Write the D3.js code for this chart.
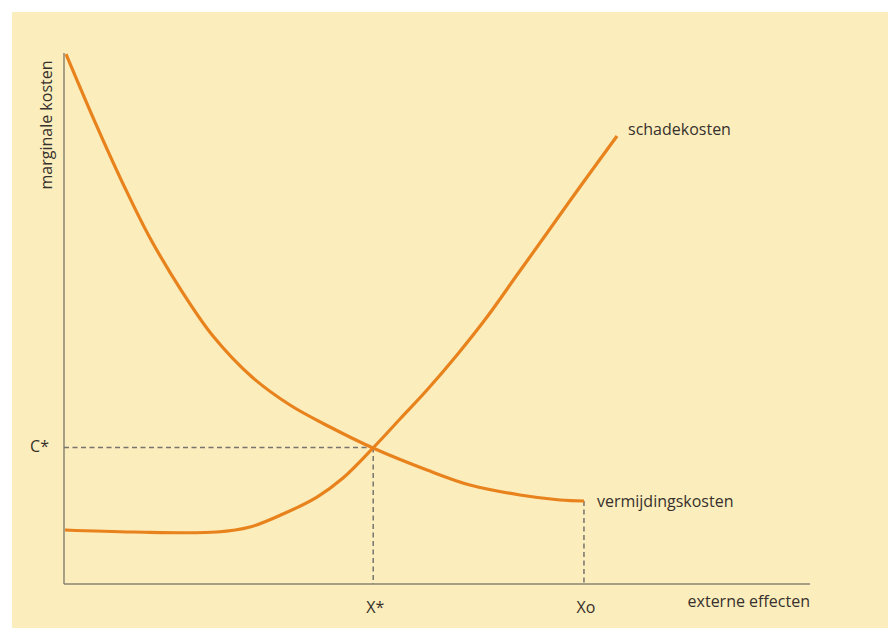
<!DOCTYPE html>
<html><head><meta charset="utf-8">
<script src="https://cdn.jsdelivr.net/npm/d3@7"></script>
<style>html,body{margin:0;padding:0;background:#fff;}svg{display:block;}</style>
</head><body>
<svg id="chart" width="888" height="628"></svg>
<script>
// Data (abstract units: x 0-100 external effects, y 0-100 marginal cost)
const vermijdingX = [0.27, 4.16, 8.18, 11.53, 15.95, 19.97, 25.2, 30.29, 35.66, 41.42, 48.66, 54.42, 61.13, 66.49, 69.71];
const vermijdingY = [99.81, 87.0, 74.58, 65.16, 54.8, 46.7, 38.98, 33.71, 29.57, 25.61, 21.47, 18.64, 16.76, 15.82, 15.63];
const schadeX = [0.13, 9.25, 20.51, 24.93, 29.36, 33.91, 37.4, 41.55, 45.04, 48.66, 52.68, 56.7, 60.72, 64.75, 69.44, 74.13];
const schadeY = [10.17, 9.79, 9.79, 10.73, 13.18, 16.38, 19.96, 25.8, 31.07, 36.53, 43.13, 50.28, 58.19, 66.1, 75.33, 84.37];
const cStar = 25.7, xStar = 41.45, xO = 69.7;
const seriesNames = ["vermijdingskosten", "schadekosten"];
const axisLabels = ["marginale kosten", "externe effecten"];
const tickLabels = ["C*", "X*", "Xo"];

const svg = d3.select("#chart");
svg.append("rect").attr("x", 12).attr("y", 12).attr("width", 876).attr("height", 616).attr("fill", "#fcedbc");

const x = d3.scaleLinear().domain([0, 100]).range([64, 810]);
const y = d3.scaleLinear().domain([0, 100]).range([584, 53]);
const font = "'Open Sans', sans-serif";
const textCol = "#36312c";
const axisCol = "#8b8474";
const orange = "#e8821c";
const dashCol = "#77746d";

// axes
svg.append("line").attr("x1", x(0)).attr("x2", x(0)).attr("y1", y(100)).attr("y2", y(0))
  .attr("stroke", axisCol).attr("stroke-width", 1.5);
svg.append("line").attr("x1", x(0)).attr("x2", x(100)).attr("y1", y(0)).attr("y2", y(0))
  .attr("stroke", axisCol).attr("stroke-width", 1.5);

// dashed guides
const dash = "5,3.5";
svg.append("line").attr("x1", x(0)).attr("x2", x(xStar)).attr("y1", y(cStar)).attr("y2", y(cStar))
  .attr("stroke", dashCol).attr("stroke-width", 1.5).attr("stroke-dasharray", dash);
svg.append("line").attr("x1", x(xStar)).attr("x2", x(xStar)).attr("y1", y(cStar)).attr("y2", y(0))
  .attr("stroke", dashCol).attr("stroke-width", 1.5).attr("stroke-dasharray", dash);
svg.append("line").attr("x1", x(xO)).attr("x2", x(xO)).attr("y1", y(vermijdingY[vermijdingY.length-1])).attr("y2", y(0))
  .attr("stroke", dashCol).attr("stroke-width", 1.5).attr("stroke-dasharray", dash);

// curves
const line = d3.line().x(d => x(d[0])).y(d => y(d[1])).curve(d3.curveCatmullRom.alpha(0.5));
const vData = vermijdingX.map((v, i) => [v, vermijdingY[i]]);
const sData = schadeX.map((v, i) => [v, schadeY[i]]);
svg.append("path").attr("d", line(vData)).attr("fill", "none").attr("stroke", orange).attr("stroke-width", 3.2).attr("stroke-linecap", "butt");
svg.append("path").attr("d", line(sData)).attr("fill", "none").attr("stroke", orange).attr("stroke-width", 3.2).attr("stroke-linecap", "butt");

// texts
function txt(s, px, py, anchor, rot) {
  const t = svg.append("text").attr("x", px).attr("y", py).attr("text-anchor", anchor)
    .attr("font-family", font).attr("font-size", 16).attr("fill", textCol).text(s);
  if (rot) t.attr("transform", `rotate(-90,${px},${py})`);
  return t;
}
txt(seriesNames[1], x(schadeX[schadeX.length-1]) + 11, y(schadeY[schadeY.length-1]) - 1, "start");
txt(seriesNames[0], x(xO) + 13, y(vermijdingY[vermijdingY.length-1]) + 6, "start");
txt(axisLabels[0], 52, 125, "middle", true);
txt(axisLabels[1], x(100), 607, "end");
txt(tickLabels[0], 49, y(cStar) + 4, "end");
txt(tickLabels[1], x(xStar) + 2, 613, "middle");
txt(tickLabels[2], x(xO) + 2, 613, "middle");
</script>
</body></html>
